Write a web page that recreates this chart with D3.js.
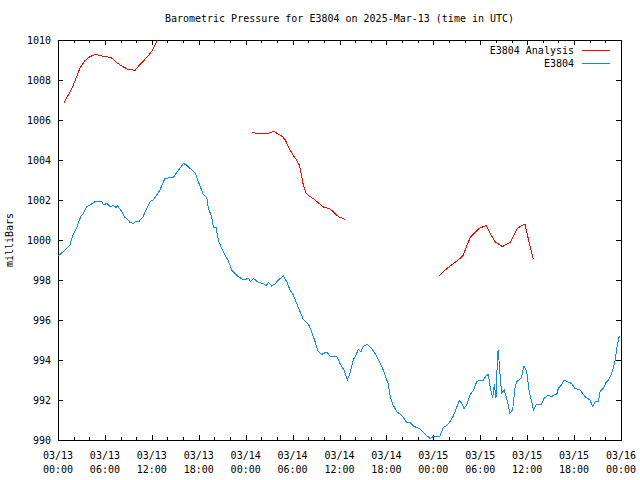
<!DOCTYPE html>
<html>
<head>
<meta charset="utf-8">
<script src="https://cdn.jsdelivr.net/npm/d3@7"></script>
<style>
  html, body { margin: 0; padding: 0; background: #fff; }
  svg { display: block; }
  text { font-family: "DejaVu Sans Mono", "Liberation Mono", monospace; font-size: 10px; fill: #000; }
</style>
</head>
<body>
<svg id="chart" width="640" height="480"></svg>
<script>
// ---- Data (hours after 2025-03-13 00:00 UTC) ----
const chartTitle = "Barometric Pressure for E3804 on 2025-Mar-13 (time in UTC)";
const yAxisLabel = "milliBars";
const seriesNames = ["E3804 Analysis", "E3804"];
const seriesColors = ["#ff0000", "#0a88ff"];

const analysisHours = [
  0.8, 1.32, 1.83, 2.39, 2.81, 3.45, 4.09, 4.82, 5.59, 6.78, 7.51, 8.14, 8.86, 9.85, 10.49, 11.34, 12.06, 12.8,
  18.0,
  24.85, 25.4, 26.9, 27.6, 28.05, 28.7, 29.07, 29.45, 30.0, 30.5, 30.86, 31.17, 31.37, 31.68, 32.0, 32.65, 33.38, 34.0, 34.66, 35.2, 35.85, 36.75,
  42.0,
  48.77, 49.28, 50.13, 50.77, 51.41, 51.84, 52.27, 52.78, 53.88, 54.74, 55.34, 55.89, 56.82, 57.81, 58.66, 59.08, 59.72, 60.28, 60.79
];
const analysisValues = [
  1006.88, 1007.25, 1007.63, 1008.17, 1008.6, 1008.97, 1009.17, 1009.28, 1009.2, 1009.13, 1008.87, 1008.7, 1008.55, 1008.48, 1008.78, 1009.12, 1009.47, 1010.05,
  null,
  1005.38, 1005.33, 1005.33, 1005.43, 1005.33, 1005.17, 1005.0, 1004.67, 1004.28, 1004.0, 1003.75, 1003.17, 1002.75, 1002.37, 1002.23, 1002.07, 1001.83, 1001.63, 1001.58, 1001.42, 1001.17, 1001.03,
  null,
  998.23, 998.42, 998.7, 998.88, 999.08, 999.25, 999.7, 1000.17, 1000.58, 1000.73, 1000.28, 999.92, 999.67, 999.87, 1000.53, 1000.67, 1000.8, 999.83, 999.03
];

const stationHours = [
  0, 0.26, 0.9, 1.53, 1.83, 2.26, 2.6, 2.9, 3.24, 3.67, 4.09, 4.73, 5.59, 5.79, 6.23, 6.65, 7.07, 7.42, 7.58, 8.15,
  8.57, 8.79, 9.21, 9.63, 10.06, 10.4, 10.83, 11.25, 11.77, 12.19, 12.62, 13.04, 13.68, 14.75, 15.18, 15.82, 16.02, 16.46, 16.88, 17.52,
  17.94, 18.58, 19.02, 19.22, 19.66, 19.86, 20.21, 20.5, 20.93, 21.36, 21.78, 22.21, 22.64, 23.06, 23.7, 24.34, 24.64, 24.98, 25.62, 26.26,
  26.6, 26.89, 27.33, 27.75, 28.17, 28.81, 29.25, 29.67, 30.09, 30.53, 30.95, 31.37, 32.01, 32.44, 32.87, 33.29, 33.72, 34.36, 34.78, 35.64,
  36.06, 36.28, 36.58, 37.0, 37.34, 37.76, 38.11, 38.4, 38.75, 39.04, 39.56, 40.12, 40.54, 40.96, 41.4, 41.82, 42.24, 42.46, 42.75, 43.32,
  43.74, 44.16, 44.59, 45.02, 45.44, 45.87, 46.29, 46.72, 47.15, 47.57, 48.0, 48.85, 49.27, 49.71, 50.13, 50.55, 50.99, 51.32, 51.63, 51.92,
  52.27, 52.69, 53.11, 53.55, 53.97, 54.39, 54.74, 55.03, 55.25, 55.59, 55.8, 56.01, 56.23, 56.3, 56.52, 56.74, 57.07, 57.38, 57.8, 58.15,
  58.44, 58.66, 59.08, 59.3, 59.59, 59.94, 60.27, 60.58, 60.79, 61.22, 61.86, 62.15, 62.7, 63.13, 63.56, 63.77, 63.98, 64.41, 64.74, 65.05,
  65.69, 66.12, 66.76, 67.4, 68.04, 68.38, 68.68, 69.1, 69.32, 69.74, 70.08, 70.38, 70.81, 71.23, 71.53, 71.79
];
const stationValues = [
  999.22, 999.28, 999.5, 999.75, 1000.17, 1000.5, 1000.83, 1001.17, 1001.33, 1001.67, 1001.75, 1001.92, 1001.93, 1001.75, 1001.83, 1001.67, 1001.73, 1001.63, 1001.72, 1001.42,
  1001.13, 1001.08, 1000.87, 1000.83, 1000.95, 1000.95, 1001.13, 1001.5, 1001.92, 1002.0, 1002.25, 1002.5, 1003.08, 1003.13, 1003.38, 1003.7, 1003.83, 1003.75, 1003.58, 1003.37,
  1002.92, 1002.28, 1002.13, 1001.58, 1001.17, 1000.63, 1000.63, 1000.0, 999.58, 999.25, 998.97, 998.5, 998.33, 998.17, 998.0, 998.08, 997.92, 998.08, 997.88, 997.83,
  997.7, 997.88, 997.7, 997.8, 998.0, 998.2, 997.92, 997.5, 997.25, 996.83, 996.42, 996.03, 995.8, 995.42, 994.92, 994.42, 994.28, 994.4, 994.2, 994.2,
  993.83, 993.67, 993.5, 993.0, 993.33, 994.0, 994.25, 994.53, 994.42, 994.67, 994.78, 994.58, 994.33, 994.03, 993.7, 993.25, 992.8, 992.25, 991.83, 991.42,
  991.3, 991.13, 990.87, 990.87, 990.7, 990.62, 990.55, 990.38, 990.22, 990.08, 990.17, 990.2, 990.63, 990.72, 990.92, 991.2, 991.63, 991.97, 991.83, 991.58,
  991.75, 992.25, 992.47, 992.92, 993.0, 993.0, 993.2, 993.28, 992.67, 992.08, 992.8, 992.08, 994.42, 994.5, 993.33, 992.33, 992.5, 992.08, 991.33, 991.53,
  992.58, 992.92, 993.03, 993.17, 993.7, 993.42, 992.42, 991.92, 991.5, 991.8, 991.8, 992.08, 992.25, 992.17, 992.3, 992.25, 992.58, 992.75, 993.0, 992.92,
  992.83, 992.58, 992.5, 992.17, 992.0, 991.67, 991.92, 991.92, 992.42, 992.58, 992.87, 993.0, 993.33, 993.92, 994.75, 995.2
];

const yTickValues = [990, 992, 994, 996, 998, 1000, 1002, 1004, 1006, 1008, 1010];
const xMajorTickHours = [0, 6, 12, 18, 24, 30, 36, 42, 48, 54, 60, 66, 72];
const xMinorTickHours = d3.range(0, 73, 2);

// ---- Layout ----
const W = 640, H = 480;
const margin = { left: 58, right: 19, top: 40, bottom: 40 };
const innerW = W - margin.left - margin.right;
const innerH = H - margin.top - margin.bottom;
const t0 = Date.UTC(2025, 2, 13, 0, 0, 0);
const toDate = h => new Date(t0 + h * 3600e3);

const x = d3.scaleUtc().domain([toDate(0), toDate(72)]).range([0, innerW]);
const y = d3.scaleLinear().domain([990, 1010]).range([innerH, 0]);

const svg = d3.select("#chart");
svg.append("rect").attr("width", W).attr("height", H).attr("fill", "#fff");

const defs = svg.append("defs");
defs.append("clipPath").attr("id", "plotclip")
  .append("rect").attr("x", 0).attr("y", 0).attr("width", innerW).attr("height", innerH);

const g = svg.append("g").attr("transform", `translate(${margin.left},${margin.top})`);

// ---- Axes / ticks ----
function styleAxis(sel) {
  sel.select(".domain").remove();
  sel.selectAll("line").attr("stroke", "#000").attr("shape-rendering", "crispEdges");
  sel.selectAll("text").attr("font-family", null).attr("font-size", null);
}

const xMajor = xMajorTickHours.map(toDate);
const xMinor = xMinorTickHours.filter(h => h % 6 !== 0).map(toDate);

// bottom ticks (inward)
g.append("g").attr("transform", `translate(0,${innerH})`)
  .call(d3.axisBottom(x).tickValues(xMajor).tickSize(-5).tickFormat(""))
  .call(styleAxis);
g.append("g").attr("transform", `translate(0,${innerH})`)
  .call(d3.axisBottom(x).tickValues(xMinor).tickSize(-3).tickFormat(""))
  .call(styleAxis);
// top mirrored ticks
g.append("g")
  .call(d3.axisTop(x).tickValues(xMajor).tickSize(-5).tickFormat(""))
  .call(styleAxis);
g.append("g")
  .call(d3.axisTop(x).tickValues(xMinor).tickSize(-3).tickFormat(""))
  .call(styleAxis);

// y axis left with labels
const yAx = g.append("g")
  .call(d3.axisLeft(y).tickValues(yTickValues).tickSize(-5).tickPadding(7).tickFormat(d3.format("d")))
  .call(styleAxis);
yAx.selectAll("text").attr("dy", "0.35em");
// y axis right mirrored
g.append("g").attr("transform", `translate(${innerW},0)`)
  .call(d3.axisRight(y).tickValues(yTickValues).tickSize(-5).tickFormat(""))
  .call(styleAxis);

// x tick labels (two lines)
const fmtDate = d3.utcFormat("%m/%d");
const fmtTime = d3.utcFormat("%H:%M");
const xl = g.append("g").attr("class", "xlabels");
xMajor.forEach(d => {
  const t = xl.append("text").attr("text-anchor", "middle")
    .attr("transform", `translate(${x(d)},${innerH + 19})`);
  t.append("tspan").attr("x", 0).attr("y", 0).text(fmtDate(d));
  t.append("tspan").attr("x", 0).attr("y", 14).text(fmtTime(d));
});

// border
g.append("rect").attr("x", 0).attr("y", 0).attr("width", innerW).attr("height", innerH)
  .attr("fill", "none").attr("stroke", "#000").attr("stroke-width", 1)
  .attr("shape-rendering", "crispEdges");

// ---- Lines ----
const line = d3.line()
  .defined(d => d.v !== null)
  .x(d => x(d.t))
  .y(d => y(d.v));

const analysisData = analysisHours.map((h, i) => ({ t: toDate(h), v: analysisValues[i] }));
const stationData = stationHours.map((h, i) => ({ t: toDate(h), v: stationValues[i] }));

const plot = g.append("g").attr("clip-path", "url(#plotclip)");
plot.append("path").datum(stationData)
  .attr("d", line).attr("fill", "none").attr("stroke", seriesColors[1]).attr("stroke-width", 1)
  .attr("shape-rendering", "crispEdges");
plot.append("path").datum(analysisData)
  .attr("d", line).attr("fill", "none").attr("stroke", seriesColors[0]).attr("stroke-width", 1)
  .attr("shape-rendering", "crispEdges");

// ---- Legend ----
const legend = g.append("g").attr("transform", `translate(${innerW},0)`);
seriesNames.forEach((name, i) => {
  const ly = 10 + i * 13;
  legend.append("text").attr("x", -47).attr("y", ly).attr("dy", "0.35em")
    .attr("text-anchor", "end").text(name);
  legend.append("line").attr("x1", -39).attr("x2", -11).attr("y1", ly).attr("y2", ly)
    .attr("stroke", seriesColors[i]).attr("stroke-width", 1)
    .attr("shape-rendering", "crispEdges");
});

// ---- Title & axis label ----
svg.append("text").attr("x", margin.left + innerW / 2).attr("y", 22)
  .attr("text-anchor", "middle").text(chartTitle);
svg.append("text").attr("transform", `translate(13,${margin.top + innerH / 2}) rotate(-90)`)
  .attr("text-anchor", "middle").text(yAxisLabel);
</script>
</body>
</html>
